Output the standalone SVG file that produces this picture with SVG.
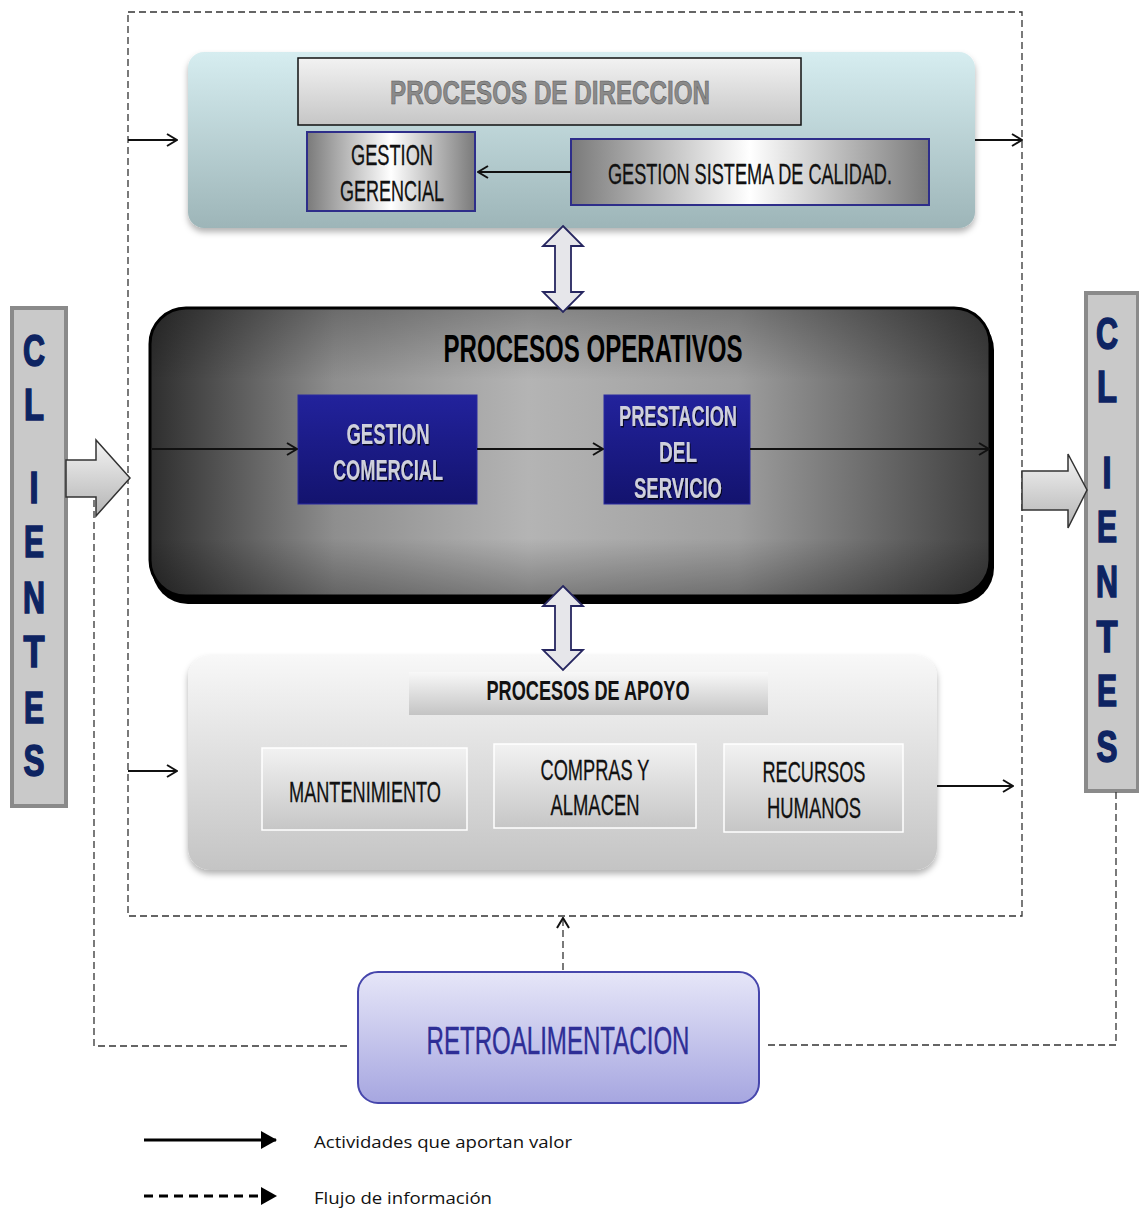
<svg xmlns="http://www.w3.org/2000/svg" width="1139" height="1209" viewBox="0 0 1139 1209">
  <defs>
    <style>
      .cond { font-family: "Liberation Sans", Arial, sans-serif; }
      .b { font-weight: bold; }
      .lbl { font-family: "Liberation Sans", Arial, sans-serif; font-size: 30px; fill: #111; stroke: #111; stroke-width: 0.3; text-anchor: middle; }
      .nav { font-family: "Liberation Sans", Arial, sans-serif; font-size: 29px; font-weight: bold; fill: #cfd0dc; text-anchor: middle; }
      .cli { font-family: "Liberation Sans", Arial, sans-serif; font-size: 44px; font-weight: bold; fill: #0e2462; stroke: #0e2462; stroke-width: 1.6; text-anchor: middle; }
      .dash { fill: none; stroke: #333; stroke-width: 1.3; stroke-dasharray: 7 4; }
      .flow { fill: none; stroke: #111; stroke-width: 2; }
      .legend { font-family: "Open Sans", "Noto Sans", sans-serif; font-size: 17px; fill: #111; }
      .sub { stroke: #ffffff; stroke-width: 1.5; }
    </style>
    <marker id="chev" viewBox="0 0 12 14" refX="11" refY="7" markerWidth="12" markerHeight="14" markerUnits="userSpaceOnUse" orient="auto">
      <path d="M1,1 L11,7 L1,13" fill="none" stroke="#111" stroke-width="2"/>
    </marker>
    <marker id="tri" viewBox="0 0 16 18" refX="15" refY="9" markerWidth="16" markerHeight="18" markerUnits="userSpaceOnUse" orient="auto">
      <path d="M0,0 L16,9 L0,18 Z" fill="#000"/>
    </marker>
    <linearGradient id="gTeal" x1="0" y1="0" x2="0" y2="1">
      <stop offset="0" stop-color="#d6edf0"/>
      <stop offset="1" stop-color="#9db5b8"/>
    </linearGradient>
    <linearGradient id="gGrayV" x1="0" y1="0" x2="0" y2="1">
      <stop offset="0" stop-color="#f2f2f2"/>
      <stop offset="1" stop-color="#c6c6c6"/>
    </linearGradient>
    <linearGradient id="gSilverH" x1="0" y1="0" x2="1" y2="0">
      <stop offset="0" stop-color="#7a7a7a"/>
      <stop offset="0.5" stop-color="#ffffff"/>
      <stop offset="1" stop-color="#7a7a7a"/>
    </linearGradient>
    <linearGradient id="gOper" x1="0" y1="0" x2="1" y2="0">
      <stop offset="0" stop-color="#2e2e2e"/>
      <stop offset="0.22" stop-color="#8e8e8e"/>
      <stop offset="0.45" stop-color="#b4b4b4"/>
      <stop offset="0.7" stop-color="#9e9e9e"/>
      <stop offset="1" stop-color="#3e3e3e"/>
    </linearGradient>
    <linearGradient id="gOperShade" x1="0" y1="0" x2="0" y2="1">
      <stop offset="0" stop-color="#000" stop-opacity="0.25"/>
      <stop offset="0.25" stop-color="#000" stop-opacity="0"/>
      <stop offset="0.8" stop-color="#000" stop-opacity="0"/>
      <stop offset="1" stop-color="#000" stop-opacity="0.3"/>
    </linearGradient>
    <linearGradient id="gNavy" x1="0" y1="0" x2="0" y2="1">
      <stop offset="0" stop-color="#22229c"/>
      <stop offset="1" stop-color="#13136e"/>
    </linearGradient>
    <linearGradient id="gApoyo" x1="0" y1="0" x2="0" y2="1">
      <stop offset="0" stop-color="#f8f8f8"/>
      <stop offset="1" stop-color="#c4c4c4"/>
    </linearGradient>
    <linearGradient id="gRetro" x1="0" y1="0" x2="0" y2="1">
      <stop offset="0" stop-color="#e6e6f8"/>
      <stop offset="1" stop-color="#a6a6e0"/>
    </linearGradient>
    <linearGradient id="gBlock" x1="0" y1="0" x2="0" y2="1">
      <stop offset="0" stop-color="#f4f4f4"/>
      <stop offset="1" stop-color="#b4b4b4"/>
    </linearGradient>
    <filter id="shadow" x="-5%" y="-5%" width="110%" height="115%">
      <feDropShadow dx="0" dy="4" stdDeviation="3" flood-color="#000" flood-opacity="0.3"/>
    </filter>
    <filter id="tshadow" x="-5%" y="-10%" width="110%" height="130%">
      <feDropShadow dx="1" dy="1.5" stdDeviation="0.6" flood-color="#000" flood-opacity="0.8"/>
    </filter>
  </defs>

  <rect width="1139" height="1209" fill="#ffffff"/>

  <!-- process boundary -->
  <rect x="128" y="12" width="894" height="904" class="dash"/>

  <!-- management processes -->
  <g id="procesos-direccion">
    <rect x="188" y="52" width="787" height="176" rx="16" fill="url(#gTeal)" filter="url(#shadow)"/>
    <rect x="298" y="58" width="503" height="67" fill="url(#gGrayV)" stroke="#111" stroke-width="1.5"/>
    <text x="550" y="104" class="cond b" font-size="34" fill="#8a8a8a" stroke="#555" stroke-width="0.6" text-anchor="middle" textLength="320" lengthAdjust="spacingAndGlyphs">PROCESOS DE DIRECCION</text>
  </g>
  <g id="gestion-gerencial">
    <rect x="307" y="132" width="168" height="79" fill="url(#gSilverH)" stroke="#2e2e8a" stroke-width="2"/>
    <text x="392" y="165" class="lbl" textLength="82" lengthAdjust="spacingAndGlyphs">GESTION</text>
    <text x="392" y="201" class="lbl" textLength="104" lengthAdjust="spacingAndGlyphs">GERENCIAL</text>
  </g>
  <g id="gestion-calidad">
    <rect x="571" y="139" width="358" height="66" fill="url(#gSilverH)" stroke="#2e2e8a" stroke-width="2"/>
    <text x="750" y="184" class="lbl" textLength="284" lengthAdjust="spacingAndGlyphs">GESTION SISTEMA DE CALIDAD.</text>
  </g>

  <!-- operational processes -->
  <g id="procesos-operativos">
    <rect x="150" y="310" width="842" height="290" rx="36" fill="#000" transform="translate(2,4)"/>
    <rect x="150" y="308" width="840" height="288" rx="36" fill="url(#gOper)" stroke="#000" stroke-width="3"/>
    <rect x="150" y="308" width="840" height="288" rx="36" fill="url(#gOperShade)"/>
    <text x="593" y="362" class="cond b" font-size="38" fill="#000" text-anchor="middle" textLength="299" lengthAdjust="spacingAndGlyphs">PROCESOS OPERATIVOS</text>
  </g>
  <g id="gestion-comercial">
    <rect x="298" y="395" width="179" height="109" fill="url(#gNavy)" stroke="#2a2aa0" stroke-width="1"/>
    <g filter="url(#tshadow)">
      <text x="388" y="444" class="nav" textLength="83" lengthAdjust="spacingAndGlyphs">GESTION</text>
      <text x="388" y="480" class="nav" textLength="110" lengthAdjust="spacingAndGlyphs">COMERCIAL</text>
    </g>
  </g>
  <g id="prestacion-servicio">
    <rect x="604" y="395" width="146" height="109" fill="url(#gNavy)" stroke="#2a2aa0" stroke-width="1"/>
    <g filter="url(#tshadow)">
      <text x="678" y="426" class="nav" textLength="118" lengthAdjust="spacingAndGlyphs">PRESTACION</text>
      <text x="678" y="462" class="nav" textLength="38" lengthAdjust="spacingAndGlyphs">DEL</text>
      <text x="678" y="498" class="nav" textLength="88" lengthAdjust="spacingAndGlyphs">SERVICIO</text>
    </g>
  </g>

  <!-- support processes -->
  <g id="procesos-apoyo">
    <rect x="188" y="655" width="749" height="215" rx="22" fill="url(#gApoyo)" filter="url(#shadow)"/>
    <rect x="409" y="672" width="359" height="43" fill="url(#gApoyo)"/>
    <text x="588" y="700" class="cond b" font-size="28" fill="#111" text-anchor="middle" textLength="203" lengthAdjust="spacingAndGlyphs">PROCESOS DE APOYO</text>
  </g>
  <g id="mantenimiento">
    <rect x="262" y="748" width="205" height="82" fill="url(#gGrayV)" class="sub"/>
    <text x="365" y="802" class="lbl" textLength="152" lengthAdjust="spacingAndGlyphs">MANTENIMIENTO</text>
  </g>
  <g id="compras-almacen">
    <rect x="494" y="744" width="202" height="84" fill="url(#gGrayV)" class="sub"/>
    <text x="595" y="780" class="lbl" textLength="109" lengthAdjust="spacingAndGlyphs">COMPRAS Y</text>
    <text x="595" y="815" class="lbl" textLength="89" lengthAdjust="spacingAndGlyphs">ALMACEN</text>
  </g>
  <g id="recursos-humanos">
    <rect x="724" y="744" width="179" height="88" fill="url(#gGrayV)" class="sub"/>
    <text x="814" y="782" class="lbl" textLength="103" lengthAdjust="spacingAndGlyphs">RECURSOS</text>
    <text x="814" y="818" class="lbl" textLength="94" lengthAdjust="spacingAndGlyphs">HUMANOS</text>
  </g>

  <!-- customers, input side -->
  <g id="clientes-entrada">
    <rect x="12" y="308" width="54" height="498" fill="#c9c9c9" stroke="#8a8a8a" stroke-width="4"/>
    <text x="34" y="366" class="cli" textLength="22" lengthAdjust="spacingAndGlyphs">C</text>
    <text x="34" y="420" class="cli" textLength="20" lengthAdjust="spacingAndGlyphs">L</text>
    <text x="34" y="503" class="cli" textLength="9" lengthAdjust="spacingAndGlyphs">I</text>
    <text x="34" y="557" class="cli" textLength="20" lengthAdjust="spacingAndGlyphs">E</text>
    <text x="34" y="613" class="cli" textLength="22" lengthAdjust="spacingAndGlyphs">N</text>
    <text x="34" y="667" class="cli" textLength="21" lengthAdjust="spacingAndGlyphs">T</text>
    <text x="34" y="723" class="cli" textLength="20" lengthAdjust="spacingAndGlyphs">E</text>
    <text x="34" y="776" class="cli" textLength="21" lengthAdjust="spacingAndGlyphs">S</text>
  </g>

  <!-- customers, output side -->
  <g id="clientes-salida">
    <rect x="1086" y="293" width="52" height="498" fill="#c9c9c9" stroke="#8a8a8a" stroke-width="4"/>
    <text x="1107" y="349" class="cli" textLength="22" lengthAdjust="spacingAndGlyphs">C</text>
    <text x="1107" y="402" class="cli" textLength="20" lengthAdjust="spacingAndGlyphs">L</text>
    <text x="1107" y="488" class="cli" textLength="9" lengthAdjust="spacingAndGlyphs">I</text>
    <text x="1107" y="542" class="cli" textLength="20" lengthAdjust="spacingAndGlyphs">E</text>
    <text x="1107" y="597" class="cli" textLength="22" lengthAdjust="spacingAndGlyphs">N</text>
    <text x="1107" y="652" class="cli" textLength="21" lengthAdjust="spacingAndGlyphs">T</text>
    <text x="1107" y="706" class="cli" textLength="20" lengthAdjust="spacingAndGlyphs">E</text>
    <text x="1107" y="762" class="cli" textLength="21" lengthAdjust="spacingAndGlyphs">S</text>
  </g>

  <!-- feedback -->
  <g id="retroalimentacion">
    <rect x="358" y="972" width="401" height="131" rx="20" fill="url(#gRetro)" stroke="#4646ac" stroke-width="2"/>
    <text x="558" y="1054" class="cond" font-size="38" fill="#2e2e96" stroke="#2e2e96" stroke-width="0.4" text-anchor="middle" textLength="263" lengthAdjust="spacingAndGlyphs">RETROALIMENTACION</text>
  </g>

  <!-- connectors -->
  <g id="connectors">
    <!-- value-adding flows -->
    <line x1="128" y1="140" x2="177" y2="140" class="flow" marker-end="url(#chev)"/>
    <line x1="975" y1="140" x2="1022" y2="140" class="flow" marker-end="url(#chev)"/>
    <line x1="571" y1="172" x2="478" y2="172" class="flow" stroke-width="2.5" marker-end="url(#chev)"/>
    <line x1="152" y1="449" x2="297" y2="449" class="flow" marker-end="url(#chev)"/>
    <line x1="477" y1="449" x2="603" y2="449" class="flow" marker-end="url(#chev)"/>
    <line x1="750" y1="449" x2="989" y2="449" class="flow" marker-end="url(#chev)"/>
    <line x1="128" y1="771" x2="177" y2="771" class="flow" marker-end="url(#chev)"/>
    <line x1="937" y1="786" x2="1013" y2="786" class="flow" marker-end="url(#chev)"/>

    <!-- two-way links between process levels -->
    <path d="M563,226 L583,246 L571,246 L571,292 L583,292 L563,312 L543,292 L555,292 L555,246 L543,246 Z" fill="#e6e6ea" stroke="#262660" stroke-width="1.8"/>
    <path d="M563,586 L583,606 L571,606 L571,650 L583,650 L563,670 L543,650 L555,650 L555,606 L543,606 Z" fill="#e6e6ea" stroke="#262660" stroke-width="1.8"/>

    <!-- customer block arrows -->
    <path d="M66,460 L96,460 L96,440 L130,478 L96,516 L96,497 L66,497 Z" fill="url(#gBlock)" stroke="#333" stroke-width="1.5"/>
    <path d="M1022,471 L1068,471 L1068,454 L1087,490 L1068,528 L1068,510 L1022,510 Z" fill="url(#gBlock)" stroke="#333" stroke-width="1.5"/>

    <!-- information flows -->
    <polyline points="94,500 94,1046 350,1046" class="dash"/>
    <polyline points="1116,792 1116,1045 766,1045" class="dash" stroke="#666"/>
    <line x1="563" y1="970" x2="563" y2="918" class="dash" marker-end="url(#chev)"/>
  </g>

  <!-- legend -->
  <g id="legend">
    <line x1="144" y1="1140" x2="276" y2="1140" stroke="#000" stroke-width="3" marker-end="url(#tri)"/>
    <text x="314" y="1148" class="legend" textLength="258" lengthAdjust="spacingAndGlyphs">Actividades que aportan valor</text>
    <line x1="144" y1="1196" x2="276" y2="1196" stroke="#000" stroke-width="3" stroke-dasharray="9 6" marker-end="url(#tri)"/>
    <text x="314" y="1204" class="legend" textLength="178" lengthAdjust="spacingAndGlyphs">Flujo de información</text>
  </g>
</svg>
